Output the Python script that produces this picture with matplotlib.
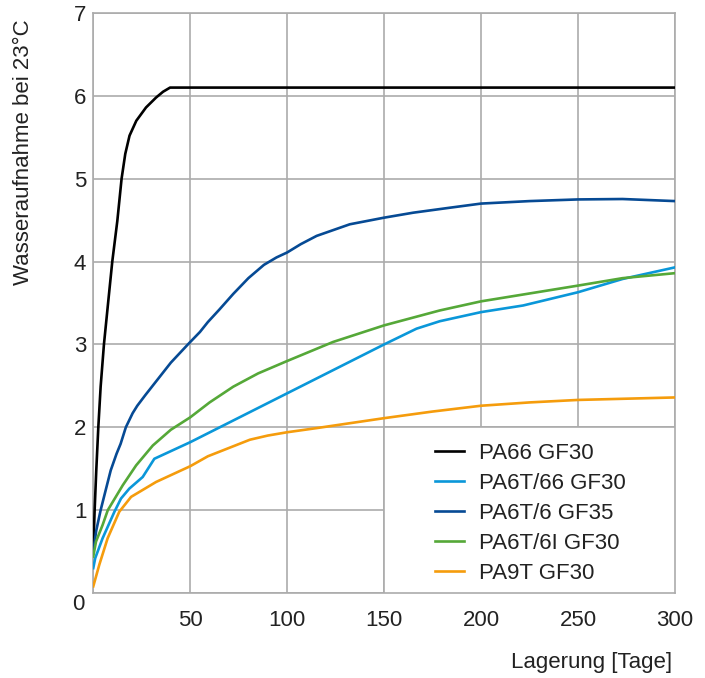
import matplotlib
matplotlib.use("Agg")
import matplotlib.pyplot as plt
from matplotlib.patches import Rectangle

plt.rc("font", size=16, family="Liberation Sans")

# water uptake (%) over storage time (days) at 23 C
pa66_x = [0, 0.7, 1.55, 2.6, 3.8, 5.5, 7.6, 9.8, 12.4, 14.6, 16.5, 18.7, 22.2, 27.2, 32.4, 36, 39.6, 300]
pa66_y = [0.52, 1.0, 1.48, 2.0, 2.49, 3.0, 3.49, 4.0, 4.49, 5.0, 5.3, 5.52, 5.70, 5.86, 5.98, 6.05, 6.1, 6.1]

pa6t66_x = [0, 1.0, 4.8, 10.9, 14.3, 18.6, 25.5, 31.5, 50, 100, 150, 166.7, 178.7, 200, 221.7, 250, 273, 300]
pa6t66_y = [0.3, 0.42, 0.66, 0.98, 1.14, 1.26, 1.40, 1.62, 1.82, 2.41, 3.0, 3.19, 3.28, 3.39, 3.47, 3.63, 3.79, 3.93]

pa6t6_x = [0, 1.5, 3.8, 6.5, 9.0, 12, 14.1, 16.8, 20.3, 22.7, 26.9, 31.6, 40, 48.8, 55, 59.1, 65, 72.2, 80, 88,
           94.5, 100, 107, 115.2, 132.3, 150, 165, 183.9, 200, 225, 250, 273, 300]
pa6t6_y = [0.5, 0.75, 1.0, 1.25, 1.48, 1.68, 1.80, 2.0, 2.17, 2.26, 2.39, 2.53, 2.78, 3.0, 3.15, 3.27, 3.42, 3.61,
           3.80, 3.96, 4.05, 4.11, 4.21, 4.31, 4.45, 4.53, 4.59, 4.65, 4.70, 4.73, 4.75, 4.755, 4.73]

pa6t6i_x = [0, 1.4, 4.8, 7.5, 15.2, 22.1, 30.7, 40, 50, 60, 72.2, 85, 100, 113.4, 123.7, 150, 178.7, 200, 250, 273, 300]
pa6t6i_y = [0.44, 0.62, 0.82, 1.0, 1.30, 1.54, 1.78, 1.97, 2.12, 2.30, 2.49, 2.65, 2.80, 2.93, 3.03, 3.23, 3.41, 3.52, 3.71, 3.80, 3.86]

pa9t_x = [0, 3.1, 7.4, 13.4, 19.5, 32.4, 50, 59.1, 80.8, 90, 100, 115.2, 150, 175, 200, 225, 250, 275, 300]
pa9t_y = [0.08, 0.34, 0.66, 0.98, 1.16, 1.34, 1.53, 1.65, 1.85, 1.90, 1.94, 1.99, 2.11, 2.19, 2.26, 2.30, 2.33, 2.345, 2.36]

labels = ["PA66 GF30", "PA6T/66 GF30", "PA6T/6 GF35", "PA6T/6I GF30", "PA9T GF30"]
colors = ["#000000", "#0a97d9", "#064a94", "#55a838", "#f59c0c"]

gridc = "#ababab"
textc = "#222222"

fig = plt.figure(figsize=(7.05, 6.78), dpi=100)
ax = fig.add_axes([0.1323, 0.1254, 0.8251, 0.8554])

series = [(pa66_x, pa66_y), (pa6t66_x, pa6t66_y), (pa6t6_x, pa6t6_y), (pa6t6i_x, pa6t6i_y), (pa9t_x, pa9t_y)]
handles = []
for (xs, ys), lab, c in zip(series, labels, colors):
    h, = ax.plot(xs, ys, color=c, lw=1.9, label=lab, zorder=4, solid_joinstyle="round")
    handles.append(h)

ax.set_xlim(0, 300)
ax.set_ylim(0, 7)
ax.set_xticks([0, 50, 100, 150, 200, 250, 300])
ax.set_xticklabels(["", "50", "100", "150", "200", "250", "300"])
ax.set_yticks(range(8))
ax.set_yticklabels([""] + [str(v) for v in range(1, 8)])
ax.grid(True, color=gridc, lw=1.2)
ax.set_axisbelow(True)
for s in ax.spines.values():
    s.set_color(gridc)
    s.set_linewidth(1.2)
ax.tick_params(length=0, colors=textc, labelsize=16)
ax.tick_params(axis="x", pad=12)
ax.tick_params(axis="y", pad=5)

# the origin label sits a bit below the corner
ax.annotate("0", xy=(0, 0), xycoords="axes fraction", xytext=(-6.5, -8.6),
            textcoords="offset points", ha="right", va="center", color=textc, fontsize=16)

# white legend box sitting in the lower right grid cells
ax.add_patch(Rectangle((150, 0), 150, 2, facecolor="white", edgecolor=gridc, lw=1.2, zorder=3))
ax.legend(handles=handles, loc="upper left", bbox_to_anchor=(0.587, 0.259), frameon=False,
          borderpad=0, borderaxespad=0, handlelength=1.3, handletextpad=0.7, labelspacing=0.41,
          fontsize=16, labelcolor=textc)

fig.text(0.034, 0.972, "Wasseraufnahme bei 23°C", rotation=90, ha="center", va="top", color=textc, fontsize=16)
fig.text(0.953, 0.008, "Lagerung [Tage]", ha="right", va="bottom", color=textc, fontsize=16)

fig.savefig("out.png", dpi=100)
